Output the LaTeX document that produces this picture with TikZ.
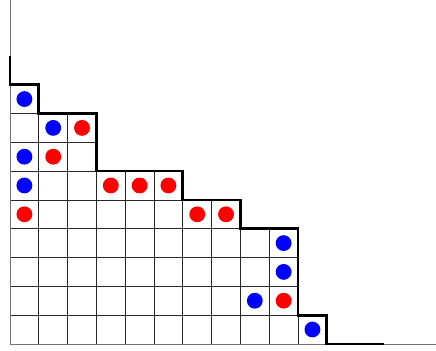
\documentclass[tikz,border=0pt]{standalone}
\usepackage{tikz}
\usetikzlibrary{positioning}

\begin{document}
\begin{tikzpicture}[x=0.8cm, y=0.8cm,
    cell/.style={draw=black!85, line width=0.5pt},
    axis/.style={draw=black!55, line width=0.6pt},
    stair/.style={draw=black, line width=2.2pt, line join=miter},
    bdot/.style={circle, fill=blue, inner sep=0pt, minimum size=0.44cm},
    rdot/.style={circle, fill=red, inner sep=0pt, minimum size=0.44cm}]
    \useasboundingbox (-0.347,-0.243) rectangle (14.79,11.94);
    % cells, row by row from the top
    \foreach \r/\len in {1/1, 2/3, 3/3, 4/6, 5/8, 6/10, 7/10, 8/10, 9/11}
        \foreach \c in {1,...,\len}
            \draw[cell] (\c-1, 9-\r) rectangle (\c, 10-\r);
    % axes
    \draw[axis] (0,11.94) -- (0,0) -- (14.79,0);
    % staircase
    \draw[stair] (0,10) -- (0,9) -- (1,9) -- (1,8) -- (3,8) -- (3,6) -- (6,6)
        -- (6,5) -- (8,5) -- (8,4) -- (10,4) -- (10,1) -- (11,1) -- (11,0) -- (13,0);
    % dots (column, row)
    \foreach \c/\r [count=\i] in {1/1, 2/2, 1/3, 1/4, 10/6, 10/7, 9/8, 11/9}
        \node[bdot] (b\i) at (\c-0.5, 9.5-\r) {};
    \foreach \c/\r [count=\i] in {3/2, 2/3, 4/4, 5/4, 6/4, 1/5, 7/5, 8/5, 10/8}
        \node[rdot] (r\i) at (\c-0.5, 9.5-\r) {};
\end{tikzpicture}
\end{document}
